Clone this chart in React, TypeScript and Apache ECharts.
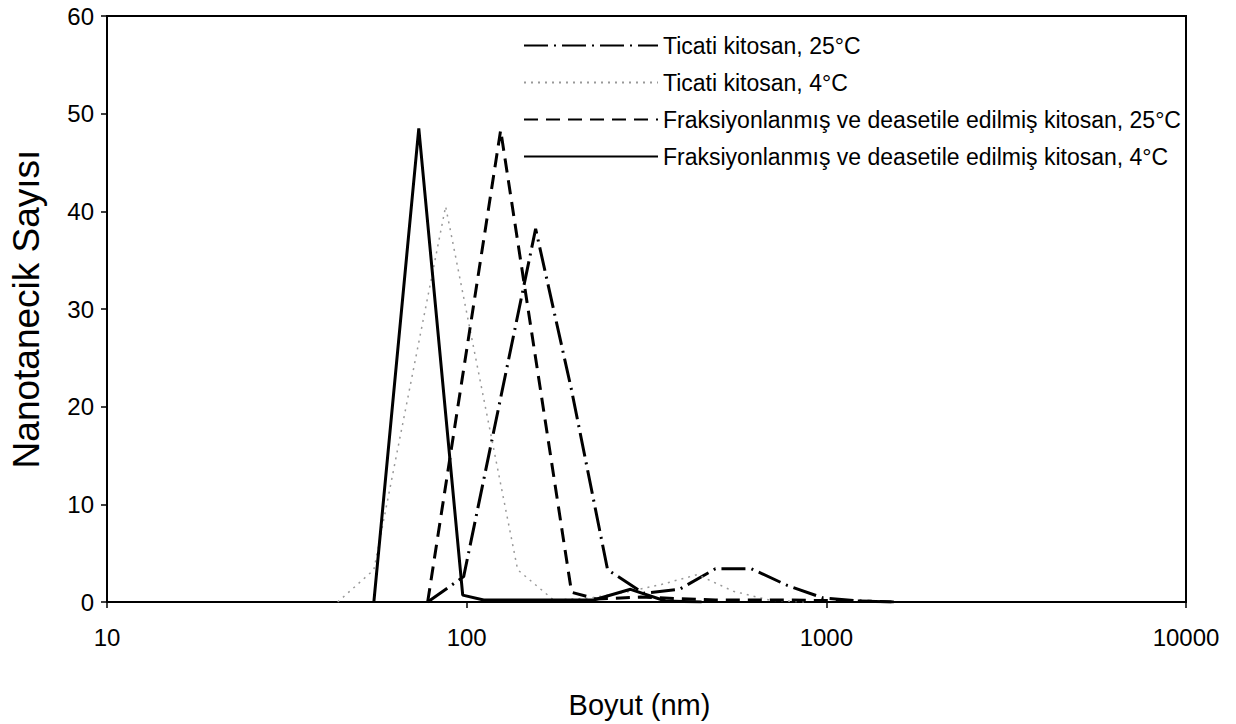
import React, { useEffect, useRef } from "react";
import * as echarts from "echarts";

// Size bins (nm) and particle counts
const ticati25Size = [77.9, 98.1, 155.5, 195.7, 246.5, 310.2, 390.5, 491.6, 618.9, 779, 981, 1235, 1555];
const ticati25Count = [0, 2.6, 38.2, 21.7, 3.3, 0.9, 1.3, 3.4, 3.4, 1.7, 0.4, 0.1, 0];

const ticati4Size = [43.8, 55.2, 87.4, 138.6, 174.5, 219.6, 276.4, 348, 438, 551.5, 694, 874];
const ticati4Count = [0, 3.3, 40.5, 3.3, 0.2, 0.4, 1.0, 1.8, 2.8, 1.1, 0.2, 0];

const frak25Size = [77.9, 124.3, 195.7, 229.7, 304.3, 491.6, 779, 1235, 1555];
const frak25Count = [0, 48.3, 1.0, 0.3, 0.5, 0.2, 0.2, 0.1, 0];

const frak4Size = [55.2, 73.6, 97.5, 111.5, 225.3, 285.5, 357.2, 450];
const frak4Count = [0, 48.5, 0.7, 0.2, 0.2, 1.3, 0.1, 0];

const seriesNames = [
  "Ticati kitosan, 25°C",
  "Ticati kitosan, 4°C",
  "Fraksiyonlanmış ve deasetile edilmiş kitosan, 25°C",
  "Fraksiyonlanmış ve deasetile edilmiş kitosan, 4°C",
];

const xTitle = "Boyut (nm)";
const yTitle = "Nanotanecik Sayısı";

const pair = (xs: number[], ys: number[]) => xs.map((x, i) => [x, ys[i]]);

export default function App() {
  const ref = useRef<HTMLDivElement>(null);
  useEffect(() => {
    if (!ref.current) return;
    const chart = echarts.init(ref.current, null, { renderer: "svg" });
    const font = "'Liberation Sans', Arial, sans-serif";
    chart.setOption({
      animation: false,
      backgroundColor: "#fff",
      textStyle: { fontFamily: font, color: "#000" },
      grid: {
        left: 106,
        right: 50,
        top: 16,
        bottom: 119,
        show: true,
        borderColor: "#000",
        borderWidth: 2,
        containLabel: false,
      },
      legend: {
        orient: "vertical",
        left: 518,
        top: 29,
        itemWidth: 134,
        itemHeight: 20,
        itemGap: 14,
        data: seriesNames,
        itemStyle: { opacity: 0 },
        textStyle: { fontSize: 23, color: "#000", fontFamily: font },
        selectedMode: false,
      },
      xAxis: {
        type: "log",
        logBase: 10,
        min: 10,
        max: 10000,
        name: xTitle,
        nameLocation: "middle",
        nameGap: 88,
        nameTextStyle: { fontSize: 29, color: "#000", fontFamily: font, padding: [0, 14, 0, 0] },
        axisLine: { show: true, lineStyle: { color: "#000", width: 2 } },
        axisTick: { show: true, length: 6, lineStyle: { color: "#000", width: 1.5 } },
        minorTick: { show: false },
        splitLine: { show: false },
        axisLabel: {
          fontSize: 24,
          color: "#000",
          margin: 23,
          fontFamily: font,
          formatter: (v: number) => String(Math.round(v)),
        },
      },
      yAxis: {
        type: "value",
        min: 0,
        max: 60,
        interval: 10,
        name: yTitle,
        nameLocation: "middle",
        nameGap: 62,
        nameTextStyle: { fontSize: 37, color: "#000", fontFamily: font },
        axisLine: { show: true, lineStyle: { color: "#000", width: 2 } },
        axisTick: { show: true, length: 6, lineStyle: { color: "#000", width: 1.5 } },
        splitLine: { show: false },
        axisLabel: { fontSize: 24, color: "#000", margin: 13, fontFamily: font },
      },
      series: [
        {
          name: seriesNames[0],
          type: "line",
          symbol: "none",
          data: pair(ticati25Size, ticati25Count),
          lineStyle: { color: "#000", width: 3, type: [24, 6, 2, 6] },
          itemStyle: { color: "#000" },
        },
        {
          name: seriesNames[1],
          type: "line",
          symbol: "none",
          data: pair(ticati4Size, ticati4Count),
          lineStyle: { color: "#999", width: 1.5, type: [2, 5] },
          itemStyle: { color: "#999" },
        },
        {
          name: seriesNames[2],
          type: "line",
          symbol: "none",
          data: pair(frak25Size, frak25Count),
          lineStyle: { color: "#000", width: 3, type: [14, 8] },
          itemStyle: { color: "#000" },
        },
        {
          name: seriesNames[3],
          type: "line",
          symbol: "none",
          data: pair(frak4Size, frak4Count),
          lineStyle: { color: "#000", width: 3, type: "solid" },
          itemStyle: { color: "#000" },
        },
      ],
    });
    return () => chart.dispose();
  }, []);
  return (
    <div
      ref={ref}
      style={{ position: "fixed", left: 0, top: 0, width: 1236, height: 724, background: "#fff" }}
    />
  );
}
